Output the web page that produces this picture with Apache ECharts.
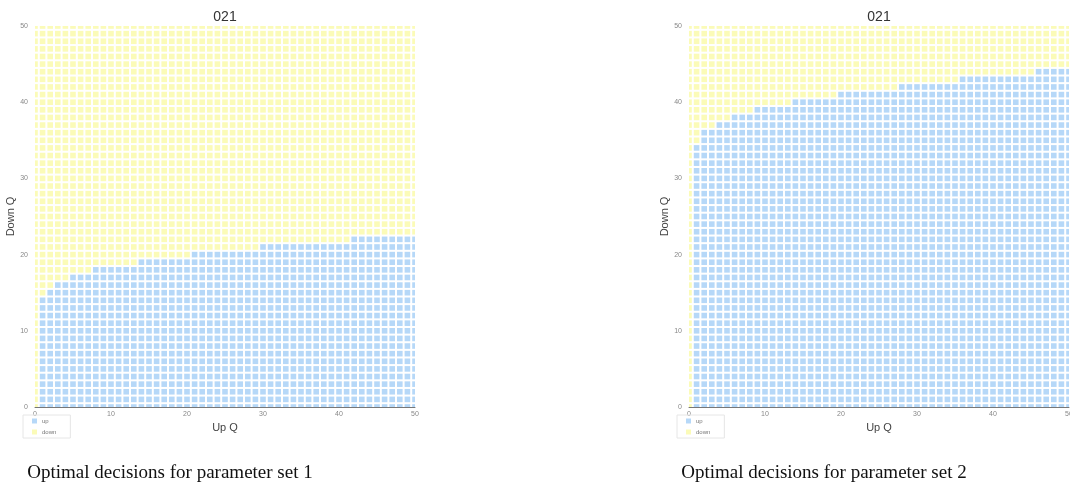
<!DOCTYPE html>
<html>
<head>
<meta charset="utf-8">
<script src="https://cdn.jsdelivr.net/npm/echarts@6/dist/echarts.min.js"></script>
<style>
  html, body { margin: 0; padding: 0; background: #fff; }
  #main { width: 1070px; height: 485px; }
</style>
</head>
<body>
<div id="main"></div>
<script>
// highest Down Q that is still "up", for each Up Q = 0..50 (-1 = none)
const boundarySet1 = [-1, 14, 15, 16, 16, 17, 17, 17, 18, 18, 18, 18, 18, 18,
  19, 19, 19, 19, 19, 19, 19, 20, 20, 20, 20, 20, 20, 20, 20, 20,
  21, 21, 21, 21, 21, 21, 21, 21, 21, 21, 21, 21,
  22, 22, 22, 22, 22, 22, 22, 22, 22];
const boundarySet2 = [-1, 34, 36, 36, 37, 37, 38, 38, 38, 39, 39, 39, 39, 39,
  40, 40, 40, 40, 40, 40, 41, 41, 41, 41, 41, 41, 41, 41,
  42, 42, 42, 42, 42, 42, 42, 42, 43, 43, 43, 43, 43, 43, 43, 43, 43, 43,
  44, 44, 44, 44, 44];
const qMax = 50;
const chartTitle = '021';
const captions = ['Optimal decisions for parameter set 1', 'Optimal decisions for parameter set 2'];

const upColor = '#b6d8f8';
const downColor = '#fbfbb8';

// split cells into up / down
function buildCells(boundary) {
  const up = [], down = [];
  boundary.forEach((b, x) => {
    for (let y = 0; y <= qMax; y++) {
      if (y <= b) up.push([x, y]); else down.push([x, y]);
    }
  });
  return { up, down };
}

const cells1 = buildCells(boundarySet1);
const cells2 = buildCells(boundarySet2);

function renderCell(params, api) {
  const p = api.coord([api.value(0), api.value(1)]);
  const s = 5.6;
  return {
    type: 'rect',
    shape: { x: p[0] - s / 2, y: p[1] - s / 2, width: s, height: s },
    style: { fill: api.visual('color') }
  };
}

const chart = echarts.init(document.getElementById('main'));

const gridLefts = [35, 689];

function xAxisFor(i) {
  return {
    gridIndex: i, type: 'value', min: 0, max: qMax, interval: 10,
    name: 'Up Q', nameLocation: 'middle', nameGap: 12,
    nameTextStyle: { fontSize: 11, color: '#444', fontFamily: 'Liberation Sans' },
    axisLine: { show: true, lineStyle: { color: '#777', width: 1 } },
    axisTick: { show: false },
    axisLabel: { fontSize: 7, color: '#888', margin: 4, fontFamily: 'Liberation Sans' },
    splitLine: { show: false }
  };
}

function yAxisFor(i) {
  return {
    gridIndex: i, type: 'value', min: 0, max: qMax, interval: 10,
    name: 'Down Q', nameLocation: 'middle', nameGap: 18, nameRotate: 90,
    nameTextStyle: { fontSize: 11, color: '#444', fontFamily: 'Liberation Sans' },
    axisLine: { show: false },
    axisTick: { show: false },
    axisLabel: { fontSize: 7, color: '#888', margin: 7, fontFamily: 'Liberation Sans' },
    splitLine: { show: false }
  };
}

function cellSeries(name, data, color, i) {
  return {
    name: name, type: 'custom', xAxisIndex: i, yAxisIndex: i,
    data: data, clip: true, renderItem: renderCell,
    itemStyle: { color: color }, animation: false
  };
}

function legendFor(i) {
  return {
    data: ['up', 'down'], orient: 'vertical',
    left: gridLefts[i] - 12, top: 415,
    icon: 'rect', itemWidth: 5, itemHeight: 5, itemGap: 5,
    padding: [3, 14, 3, 9],
    borderColor: '#e6e6e6', borderWidth: 1,
    textStyle: { fontSize: 6, color: '#777', fontFamily: 'Liberation Sans' },
    selectedMode: false
  };
}

const captionStyle = { fontSize: 19, fontWeight: 'normal', color: '#111', fontFamily: 'Liberation Serif' };
const titleStyle = { fontSize: 14, fontWeight: 'normal', color: '#333', fontFamily: 'Liberation Sans' };

chart.setOption({
  animation: false,
  backgroundColor: '#fff',
  title: [
    { text: chartTitle, left: gridLefts[0] + 190, textAlign: 'center', top: 10, padding: 0, textStyle: titleStyle },
    { text: chartTitle, left: gridLefts[1] + 190, textAlign: 'center', top: 10, padding: 0, textStyle: titleStyle },
    { text: captions[0], left: 170, textAlign: 'center', top: 464, padding: 0, textStyle: captionStyle },
    { text: captions[1], left: 824, textAlign: 'center', top: 464, padding: 0, textStyle: captionStyle }
  ],
  legend: [legendFor(0), legendFor(1)],
  grid: [
    { left: gridLefts[0], top: 26, width: 380, height: 381, outerBoundsMode: 'none' },
    { left: gridLefts[1], top: 26, width: 380, height: 381, outerBoundsMode: 'none' }
  ],
  xAxis: [xAxisFor(0), xAxisFor(1)],
  yAxis: [yAxisFor(0), yAxisFor(1)],
  series: [
    cellSeries('up', cells1.up, upColor, 0),
    cellSeries('down', cells1.down, downColor, 0),
    cellSeries('up', cells2.up, upColor, 1),
    cellSeries('down', cells2.down, downColor, 1)
  ]
});
</script>
</body>
</html>
